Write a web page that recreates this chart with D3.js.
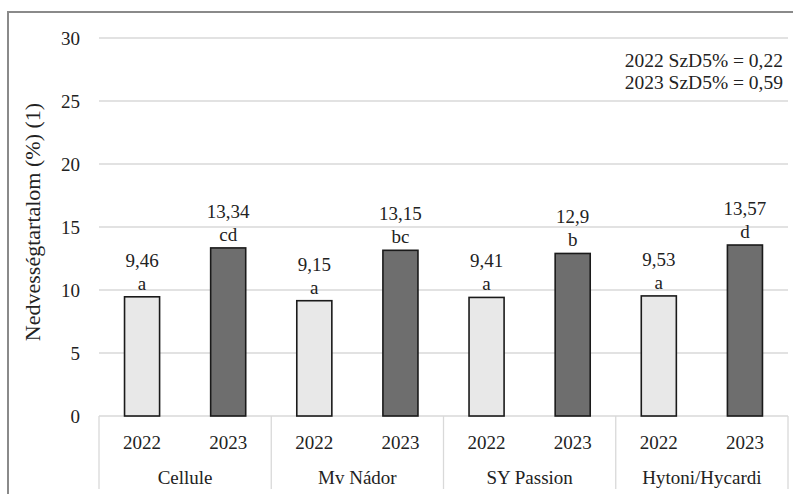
<!DOCTYPE html>
<html>
<head>
<meta charset="utf-8">
<script src="https://cdn.jsdelivr.net/npm/d3@7"></script>
</head>
<body style="margin:0;background:#fff;">
<div id="chart"></div>
<script>
// Chart data
const varieties = ['Cellule', 'Mv Nádor', 'SY Passion', 'Hytoni/Hycardi'];
const years = ['2022', '2023'];
const values2022 = [9.46, 9.15, 9.41, 9.53];
const values2023 = [13.34, 13.15, 12.9, 13.57];
const letters2022 = ['a', 'a', 'a', 'a'];
const letters2023 = ['cd', 'bc', 'b', 'd'];
const yTicks = [0, 5, 10, 15, 20, 25, 30];
const notes = ['2022 SzD5% = 0,22', '2023 SzD5% = 0,59'];
const yTitle = 'Nedvességtartalom (%) (1)';

const width = 793;
const height = 494;
const margin = { top: 38, right: 5, bottom: 78, left: 99 };
const serif = "'Liberation Serif'";

const svg = d3
  .select('#chart')
  .append('svg')
  .attr('width', width)
  .attr('height', height);

// Outer frame
svg.append('path')
  .attr('d', `M8,${height} L8,12 L${width},12`)
  .attr('fill', 'none')
  .attr('stroke', '#8a8a8a')
  .attr('stroke-width', 2);

const plotBottom = height - margin.bottom; // 416
const plotRight = width - margin.right;    // 788

const y = d3.scaleLinear().domain([0, 30]).range([plotBottom, margin.top]);
const x0 = d3.scaleBand().domain(varieties).range([margin.left, plotRight]).padding(0);
const x1 = d3.scaleBand().domain(years).range([0, x0.bandwidth()])
  .paddingInner(0.593).paddingOuter(0.2965);

function label(sel) {
  return sel
    .style('font-family', serif)
    .style('font-size', '19px')
    .style('fill', '#222');
}

// Gridlines
svg.append('g')
  .selectAll('line')
  .data(yTicks)
  .enter()
  .append('line')
  .attr('x1', margin.left)
  .attr('x2', plotRight)
  .attr('y1', (d) => y(d))
  .attr('y2', (d) => y(d))
  .attr('stroke', '#d9d9d9')
  .attr('stroke-width', 1.3);

// Y tick labels
svg.append('g')
  .selectAll('text')
  .data(yTicks)
  .enter()
  .append('text')
  .attr('x', 80)
  .attr('y', (d) => y(d))
  .attr('dy', '0.35em')
  .attr('text-anchor', 'end')
  .call(label)
  .text((d) => d);

// Y title
svg.append('text')
  .attr('transform', 'translate(40,222) rotate(-90)')
  .attr('text-anchor', 'middle')
  .call(label)
  .style('font-size', '22px')
  .text(yTitle);

// Category axis separators
const seps = varieties.map((v) => x0(v)).concat([plotRight]);
svg.append('g')
  .selectAll('line')
  .data(seps)
  .enter()
  .append('line')
  .attr('x1', (d) => d)
  .attr('x2', (d) => d)
  .attr('y1', plotBottom)
  .attr('y2', 489)
  .attr('stroke', '#d9d9d9')
  .attr('stroke-width', 1.3);

// Bars and labels
const rows = [];
varieties.forEach((v, i) => {
  rows.push({ variety: v, year: years[0], value: values2022[i], letter: letters2022[i] });
  rows.push({ variety: v, year: years[1], value: values2023[i], letter: letters2023[i] });
});

const fills = { '2022': '#e8e8e8', '2023': '#6e6e6e' };

const bar = svg.append('g')
  .selectAll('g')
  .data(rows)
  .enter()
  .append('g')
  .attr('transform', (d) => `translate(${x0(d.variety) + x1(d.year)},0)`);

bar.append('rect')
  .attr('x', 0)
  .attr('y', (d) => y(d.value))
  .attr('width', x1.bandwidth())
  .attr('height', (d) => plotBottom - y(d.value))
  .attr('fill', (d) => fills[d.year])
  .attr('stroke', '#1a1a1a')
  .attr('stroke-width', 1.6);

bar.append('text')
  .attr('x', x1.bandwidth() / 2)
  .attr('y', (d) => y(d.value) - 30)
  .attr('text-anchor', 'middle')
  .call(label)
  .text((d) => String(d.value).replace('.', ','));

bar.append('text')
  .attr('x', x1.bandwidth() / 2)
  .attr('y', (d) => y(d.value) - 7)
  .attr('text-anchor', 'middle')
  .call(label)
  .text((d) => d.letter);

// Year labels
bar.append('text')
  .attr('x', x1.bandwidth() / 2)
  .attr('y', 449)
  .attr('text-anchor', 'middle')
  .call(label)
  .text((d) => d.year);

// Variety labels
svg.append('g')
  .selectAll('text')
  .data(varieties)
  .enter()
  .append('text')
  .attr('x', (d) => x0(d) + x0.bandwidth() / 2)
  .attr('y', 484)
  .attr('text-anchor', 'middle')
  .call(label)
  .text((d) => d);

// Significance notes
svg.append('g')
  .selectAll('text')
  .data(notes)
  .enter()
  .append('text')
  .attr('x', 783)
  .attr('y', (d, i) => 67 + i * 22)
  .attr('text-anchor', 'end')
  .call(label)
  .style('font-size', '19.5px')
  .text((d) => d);
</script>
</body>
</html>
